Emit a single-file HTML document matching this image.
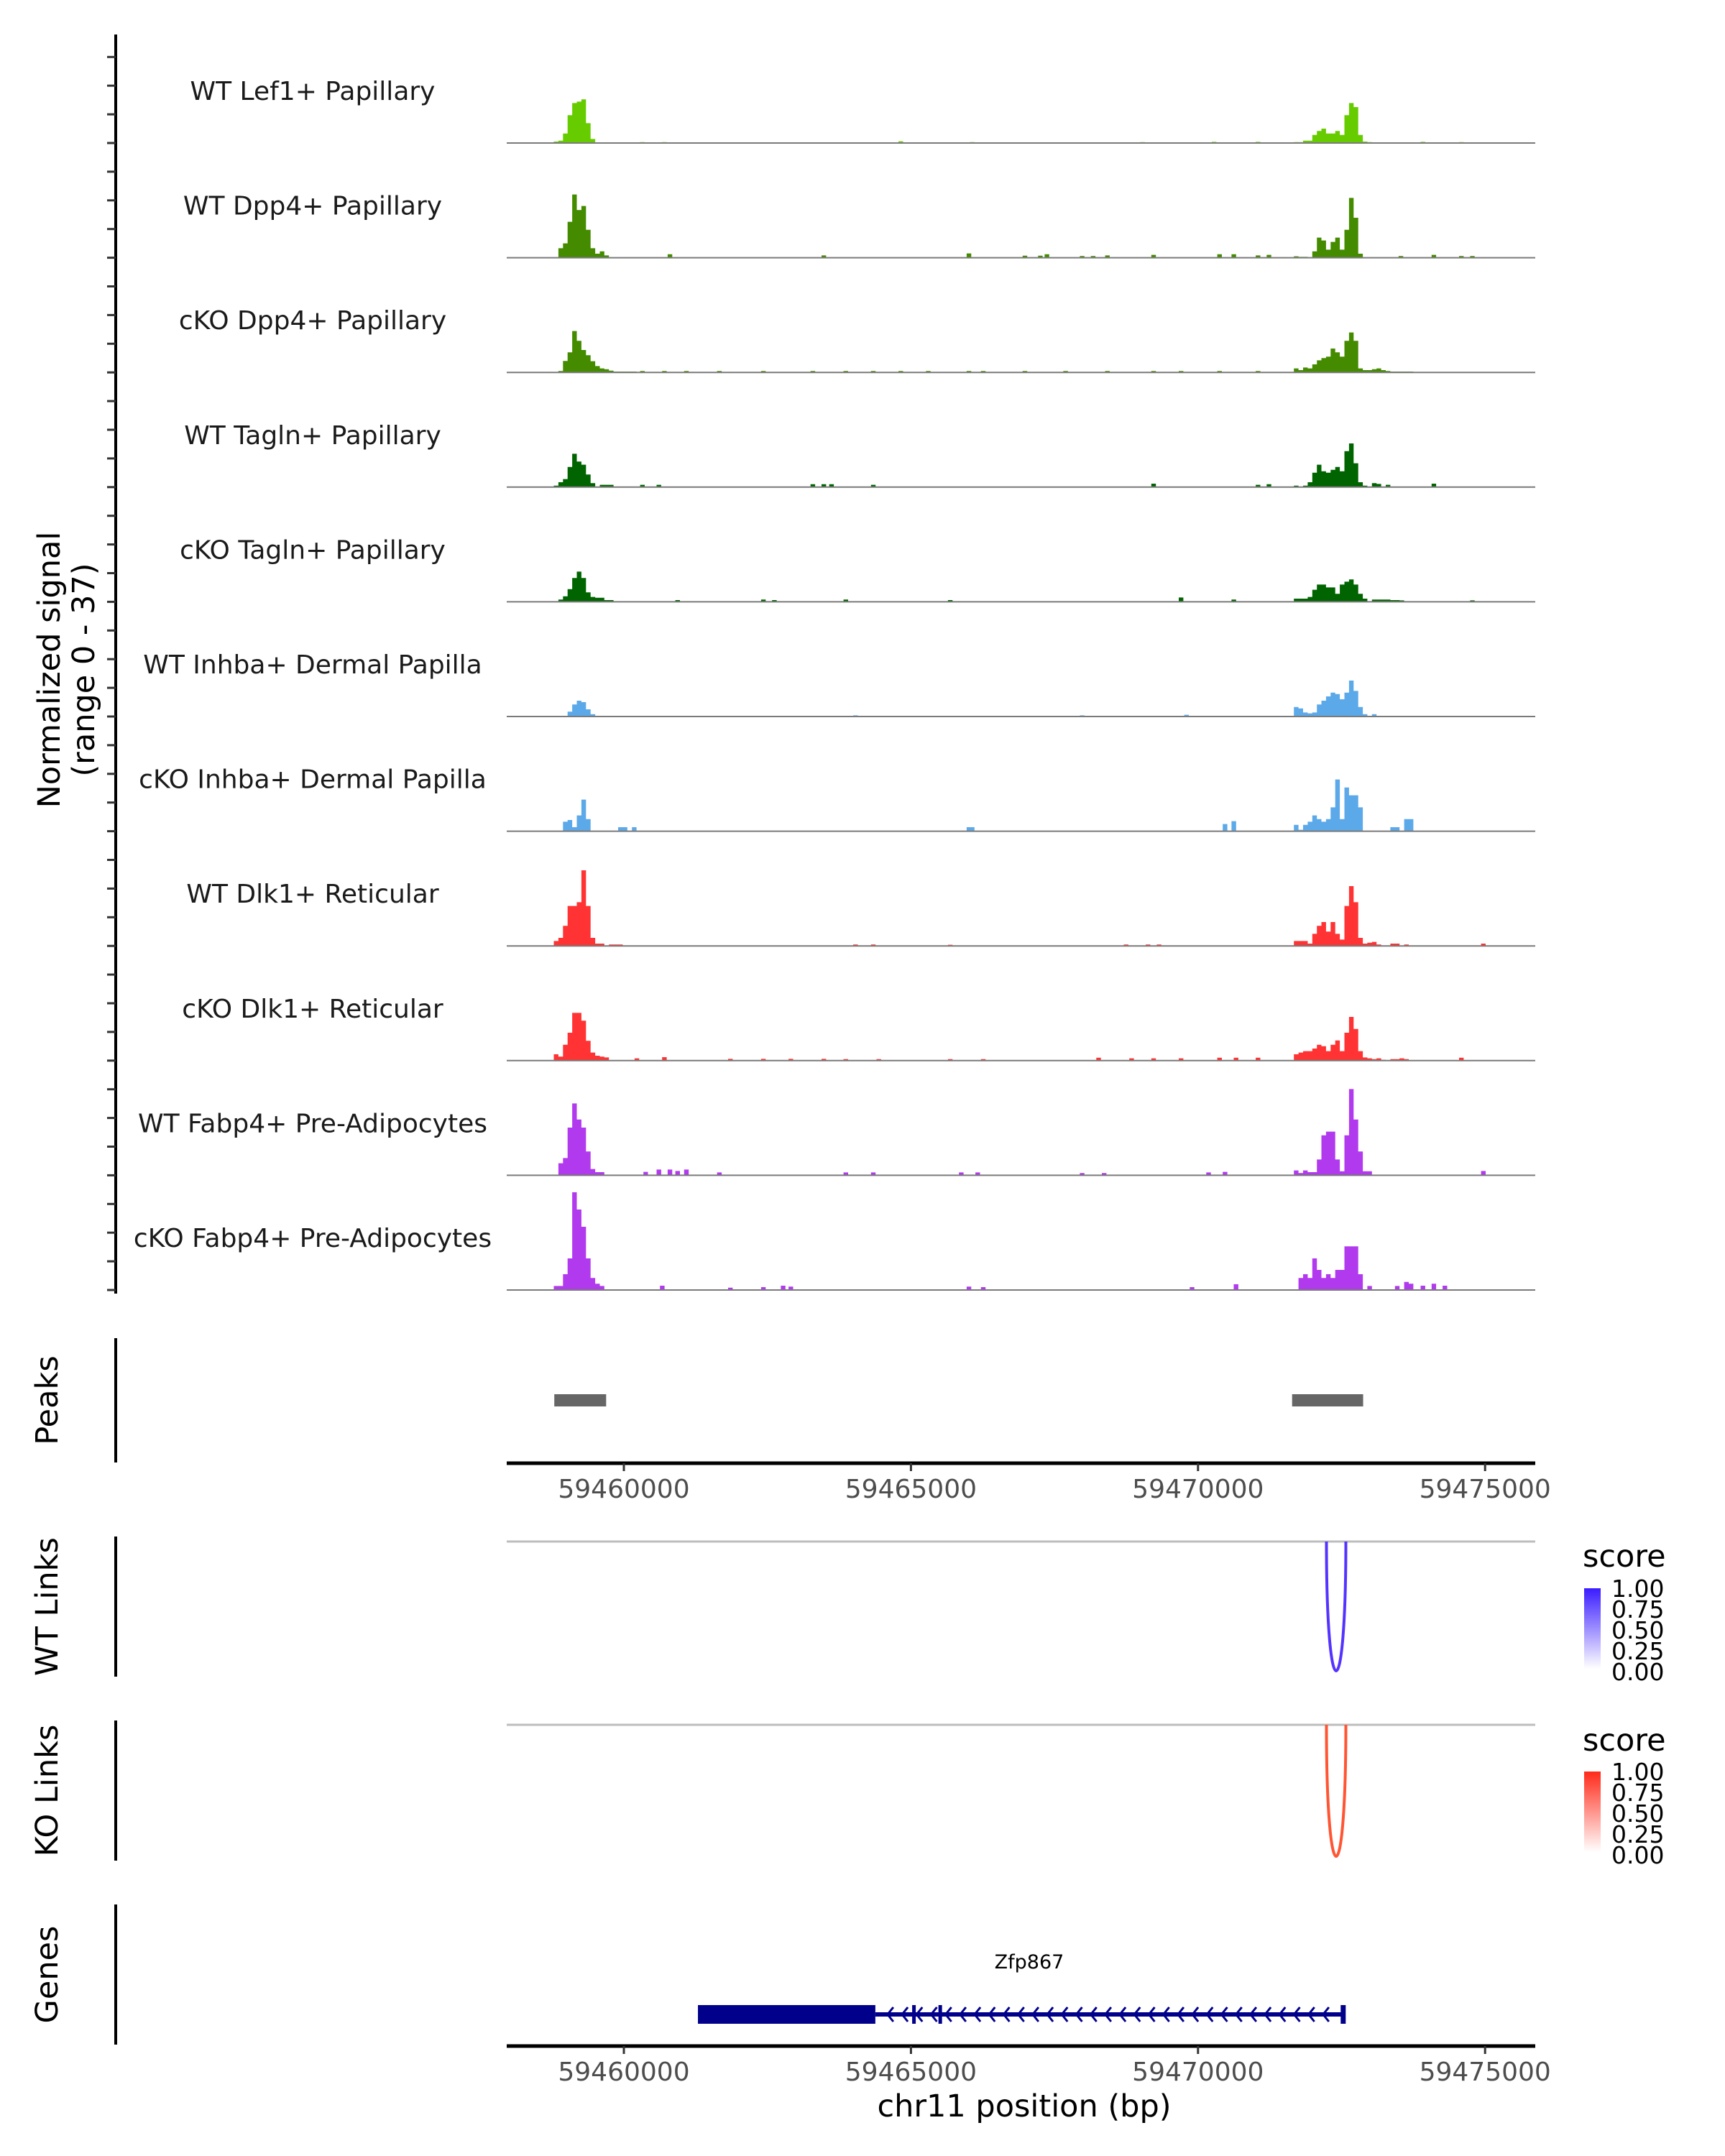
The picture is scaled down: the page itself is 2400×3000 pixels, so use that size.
<!DOCTYPE html>
<html><head><meta charset="utf-8"><style>
html,body{margin:0;padding:0;background:#fff;}
svg{display:block;font-family:"DejaVu Sans","Liberation Sans",sans-serif;}
</style></head><body>
<svg id="chart" width="2400" height="3000" viewBox="0 0 2400 3000" xmlns="http://www.w3.org/2000/svg">
<defs>
<linearGradient id="gradWT" x1="0" y1="1" x2="0" y2="0"><stop offset="0" stop-color="#ffffff"/><stop offset="1" stop-color="#3a1cff"/></linearGradient>
<linearGradient id="gradKO" x1="0" y1="1" x2="0" y2="0"><stop offset="0" stop-color="#ffffff"/><stop offset="1" stop-color="#ff2a1a"/></linearGradient>
</defs>
<g id="tracks"></g>
<g id="axes"></g>
</svg>
<script>
// ---- data ----
const trackNames = ["WT Lef1+ Papillary","WT Dpp4+ Papillary","cKO Dpp4+ Papillary","WT Tagln+ Papillary","cKO Tagln+ Papillary","WT Inhba+ Dermal Papilla","cKO Inhba+ Dermal Papilla","WT Dlk1+ Reticular","cKO Dlk1+ Reticular","WT Fabp4+ Pre-Adipocytes","cKO Fabp4+ Pre-Adipocytes"];
const trackColors = ["#66cc00","#448b00","#448b00","#006400","#006400","#5ca9e9","#5ca9e9","#ff3333","#ff3333","#b23aee","#b23aee"];
const binSize = 80;
const leftStart = 59458780;
const rightStart = 59471670;
const leftVals = [
 [0.5,0.8,3.3,9.7,13.9,14.4,15.2,6.9,1.4,0.2,0,0,0,0,0,0,0,0],
 [0,3.3,5,12.5,22,16.6,18,9.7,3.3,1.4,2.2,0.8,0,0,0,0,0,0],
 [0,0.5,4,7,14.4,11,7.8,6,3.9,2.2,1.4,1.1,0.6,0.3,0.3,0.3,0.3,0.3],
 [0.5,1.7,2.8,7,11.6,8.9,7.8,4.4,1.4,0,0.8,0.8,0.8,0,0,0,0,0],
 [0,0.8,1.9,4.4,8.3,10.5,8.3,3.3,1.7,1.4,1.4,0.6,0.6,0,0,0,0,0],
 [0,0,0,1.7,4.2,5.5,5,2.5,0.8,0,0,0,0,0,0,0,0,0],
 [0,0,3.3,3.9,1.4,5.5,11,4.2,0,0,0,0,0,0,1.4,1.4,0,1.4],
 [1.7,2.8,7,13.9,13.9,15.2,26.3,13.9,2.8,0.8,0.8,0,0.5,0.5,0.5,0,0,0],
 [2.2,1.4,5.5,9.7,16.6,16.6,13.9,6.9,2.8,1.7,1.4,1.1,0,0,0,0,0,0],
 [0,4.2,6,16.6,25,19.4,16.6,8.3,2.2,1.1,1.1,0,0,0,0,0,0,0],
 [1.4,1.4,5.5,11,34,28,22,11,4.2,2.2,1.4,0,0,0,0,0,0,0]
];
const rightVals = [
 [0.3,0.3,0.8,0.8,2.8,4.2,5,3.3,3.3,4.2,2.8,9.7,13.9,12.5,2.8,0.5,0.3,0.2,0.2,0.2,0.2,0.2,0.2,0.2,0.2,0.2],
 [0.5,0.3,0.3,0,2.2,7,6,2.8,5.5,7,2.8,9.7,20.8,13.9,1.4,0,0,0,0,0,0,0,0,0,0,0],
 [1.4,0.8,1.7,1.4,2.8,4.2,5,5.5,8.3,7,5.5,11,13.9,11,1.4,0.8,0.8,1.1,1.4,0.8,0.5,0.3,0.3,0.3,0.3,0.3],
 [0.5,0,0.5,1.7,5,7.8,5.5,5,6,7,5.5,12.5,15.2,8.3,1.7,0.5,0,1.4,1.1,0,0.8,0,0,0,0,0],
 [1.1,1.1,1.1,1.7,4.2,6,6,5,5,2.8,6,7,7.8,6,2.8,1.1,0,0.8,0.8,0.8,0.8,0.6,0.6,0.5,0,0],
 [3.3,2.8,1.4,1.1,1.4,4.2,5.5,7,8.3,7.8,6,8.3,12.5,8.9,3.3,0.8,0,0.8,0,0,0,0,0,0,0,0],
 [2.2,0.5,2.2,3.3,5.5,4.2,3.3,4.2,8.3,18,4.2,15.2,12.5,12.5,8.3,0,0,0,0,0,0,1.4,1.4,0,4.2,4.2],
 [1.7,1.7,1.7,0.8,4.2,7,8.3,5,8.3,4.2,2.2,13.9,20.8,15.2,2.8,0.8,1.1,1.4,0.5,0,0,0.8,0.8,0,0.5,0],
 [2.2,2.8,3.3,3.3,4.2,5.5,5,3.3,5.5,7,3.3,9.7,15.2,11,3.3,1.1,0.8,0.5,0.8,0.3,0,0.5,0.5,0.8,0.5,0],
 [1.7,0.8,1.7,1.1,1.1,5.5,13.9,15.2,15.2,5.5,1.4,13.9,30,19.4,8.3,1.4,1.4,0,0,0,0,0,0,0,0,0],
 [0,4.2,5.5,4.2,11,7,4.2,5.5,4.2,7,7,15.2,15.2,15.2,5.5,0,1.4,0,0,0,0,0,1.4,0,2.8,2.2]
];
const blipPos = [
 [59460283,59460666,59461049,59464783,59466027,59468995,59470240,59471005,59473877,59474547],
 [59460762,59463443,59465970,59466946,59467214,59467329,59467942,59468133,59468382,59469186,59470335,59470584,59471005,59471196,59473494,59474068,59474547,59474739],
 [59460283,59460666,59461049,59461624,59462390,59463251,59463826,59464304,59464783,59465262,59465970,59466219,59466946,59467654,59468382,59469186,59469665,59470335,59471005],
 [59460283,59460570,59463251,59463443,59463577,59464304,59469186,59471005,59471196,59474068],
 [59460896,59462390,59462581,59463826,59465645,59469665,59470584,59474739],
 [59463995,59467942,59469760],
 [59465970,59466027,59470431,59470584],
 [59463995,59464304,59465645,59468707,59469090,59469282,59474930],
 [59460187,59460666,59461815,59462390,59462868,59463443,59463826,59464400,59465645,59466219,59468229,59468803,59469186,59469665,59470335,59470622,59471005,59474547],
 [59460340,59460570,59460762,59460896,59461049,59461624,59463826,59464304,59465836,59466123,59467942,59468325,59470144,59470431,59474930],
 [59460628,59461815,59462390,59462734,59462868,59465970,59466219,59469856,59470622,59473877,59474068,59474260]
];
const blipVals = [
 [0.3,0.3,0.2,0.6,0.3,0.3,0.4,0.4,0.4,0.3],
 [1.2,0.8,1.5,0.7,0.7,1.2,0.6,0.6,0.8,1,1.2,1.2,0.8,1,0.6,1,0.6,0.6],
 [0.5,0.5,0.5,0.5,0.5,0.5,0.5,0.5,0.5,0.5,0.5,0.5,0.5,0.5,0.5,0.5,0.5,0.5,0.5],
 [0.8,0.8,1,1,1,0.8,1.2,0.8,1,1.2],
 [0.6,0.8,0.6,0.8,0.6,1.5,0.8,0.5],
 [0.4,0.4,0.6],
 [1.4,1.4,2.5,3.5],
 [0.5,0.5,0.4,0.5,0.5,0.5,0.8],
 [0.8,1.2,0.6,0.6,0.6,0.6,0.5,0.5,0.5,0.5,1,0.8,0.8,0.8,1,1,1,1],
 [1.2,2,2,1.5,2,1,1,1,1,1,0.8,0.8,1,1.2,1.5],
 [1.5,0.8,1,1.5,1.2,1.2,1,1,2,1.5,2.2,1.5]
];
const peakStarts = [59458788, 59471639];
const peakEnds = [59459691, 59472876];
const tickValues = [59460000, 59465000, 59470000, 59475000];
const tickLabels = ["59460000","59465000","59470000","59475000"];
const wtLinkEnds = [59472237, 59472575];
const koLinkEnds = [59472237, 59472575];
const legendLabels = ["1.00","0.75","0.50","0.25","0.00"];
const geneStart = 59461290, geneCdsEnd = 59464380, geneEnd = 59472560;
const geneExons = [59465046, 59465504];

// ---- scales ----
const X0 = 705, X1 = 2136;
function xs(bp){ return 868 + (bp - 59460000) * 0.07988; }
const trackBase0 = 199, trackStep = 159.6, pxPerUnit = 4.0;
function ys(v, i){ return trackBase0 + i * trackStep - v * pxPerUnit; }

const NS = "http://www.w3.org/2000/svg";
const tracksG = document.getElementById('tracks');
const axesG = document.getElementById('axes');
function mk(tag, attrs, parent){
  const e = document.createElementNS(NS, tag);
  for (const k in attrs) e.setAttribute(k, attrs[k]);
  parent.appendChild(e);
  return e;
}
function txt(s, attrs, parent){ const t = mk('text', attrs, parent); t.textContent = s; return t; }

// ---- coverage tracks ----
trackNames.forEach((name, i) => {
  const base = ys(0, i);
  const g = mk('g', {}, tracksG);
  
  
  let d = '';
  function addBins(start, vals){
    vals.forEach((v, k) => {
      if (v <= 0) return;
      const xa = xs(start + k * binSize), xb = xs(start + (k + 1) * binSize);
      d += `M${xa.toFixed(1)},${base}V${ys(v, i).toFixed(1)}H${xb.toFixed(1)}V${base}Z`;
    });
  }
  addBins(leftStart, leftVals[i]);
  addBins(rightStart, rightVals[i]);
  blipPos[i].forEach((p, k) => {
    const xa = xs(p), xb = xs(p + binSize);
    d += `M${xa.toFixed(1)},${base}V${ys(blipVals[i][k], i).toFixed(1)}H${xb.toFixed(1)}V${base}Z`;
  });
  const path = mk('path', {d: d, fill: trackColors[i]}, g);
  
  
  const bl = mk('line', {x1: X0, x2: X1, y1: base, y2: base, stroke: '#7a7a7a', 'stroke-width': 2}, g);
  
  
  const lb = txt(name, {x: 435, y: base - 60, 'text-anchor': 'middle', 'font-size': 36, fill: '#1a1a1a'}, g);
  
  
});

// ---- left axis of tracks ----
const la = mk('line', {x1: 161, x2: 161, y1: 48, y2: 1800, stroke: '#000', 'stroke-width': 4}, axesG);


for (let i = 0; i < trackNames.length; i++) {
  for (let k = 0; k < 4; k++) {
    const y = ys(0, i) - k * trackStep / 4;
    if (y < 50) continue;
    const t = mk('line', {x1: 149, x2: 161, y1: y, y2: y, stroke: '#333', 'stroke-width': 3}, axesG);
    
    
  }
}
const yt = txt('Normalized signal', {x: 0, y: 0, 'font-size': 43, 'text-anchor': 'middle', transform: 'translate(83,932) rotate(-90)', fill: '#000'}, axesG);


const yt2 = txt('(range 0 - 37)', {x: 0, y: 0, 'font-size': 43, 'text-anchor': 'middle', transform: 'translate(131,932) rotate(-90)', fill: '#000'}, axesG);



// ---- panel side axes & titles ----
const panels = [
  {name: 'Peaks', y1: 1862, y2: 2035, dn: 'peaks'},
  {name: 'WT Links', y1: 2138, y2: 2333, dn: 'wt-links'},
  {name: 'KO Links', y1: 2394, y2: 2589, dn: 'ko-links'},
  {name: 'Genes', y1: 2650, y2: 2845, dn: 'genes'}
];
panels.forEach(p => {
  const l = mk('line', {x1: 161, x2: 161, y1: p.y1, y2: p.y2, stroke: '#000', 'stroke-width': 4}, axesG);
  
  
  const c = (p.y1 + p.y2) / 2;
  const t = txt(p.name, {x: 0, y: 0, 'font-size': 43, 'text-anchor': 'middle', transform: `translate(80,${c}) rotate(-90)`, fill: '#000'}, axesG);
  
  
});

// ---- peaks ----
peakStarts.forEach((s, k) => {
  const r = mk('rect', {x: xs(s), y: 1940, width: xs(peakEnds[k]) - xs(s), height: 17, fill: '#666666'}, axesG);
  
  
});

// ---- x axes ----
function xAxis(y, dn){
  const g = mk('g', {}, axesG);
  
  
  mk('line', {x1: X0, x2: X1, y1: y, y2: y, stroke: '#000', 'stroke-width': 5}, g);
  tickValues.forEach((v, k) => {
    mk('line', {x1: xs(v), x2: xs(v), y1: y, y2: y + 11, stroke: '#333', 'stroke-width': 3}, g);
    const t = txt(tickLabels[k], {x: xs(v), y: y + 48, 'text-anchor': 'middle', 'font-size': 36, fill: '#4d4d4d'}, g);
    
    
  });
}
xAxis(2036, 'peaks-x-axis');
xAxis(2847, 'genes-x-axis');
const xt = txt('chr11 position (bp)', {x: 1425, y: 2945, 'text-anchor': 'middle', 'font-size': 43, fill: '#000'}, axesG);



// ---- links ----
function links(lineY, bottomY, ends, color, dn){
  const g = mk('g', {}, axesG);
  
  
  mk('line', {x1: X0, x2: X1, y1: lineY, y2: lineY, stroke: '#bdbdbd', 'stroke-width': 3}, g);
  const a = xs(ends[0]), b = xs(ends[1]);
  const cy = lineY + (bottomY - lineY) / 0.75;
  const arc = mk('path', {d: `M${a},${lineY} C${a},${cy} ${b},${cy} ${b},${lineY}`, fill: 'none', stroke: color, 'stroke-width': 4}, g);
  
  
}
links(2145, 2325, wtLinkEnds, '#5533ff', 'wt-links-panel');
links(2400, 2583, koLinkEnds, '#ff5533', 'ko-links-panel');

// ---- legends ----
function legend(titleY, barY, grad, dn){
  const g = mk('g', {}, axesG);
  
  
  txt('score', {x: 2202, y: titleY, 'font-size': 43, fill: '#000'}, g);
  mk('rect', {x: 2204, y: barY, width: 23, height: 112, fill: `url(#${grad})`}, g);
  legendLabels.forEach((s, k) => {
    const t = txt(s, {x: 2242, y: barY + k * 29 + 12, 'font-size': 33, fill: '#000'}, g);
    
    
  });
}
legend(2180, 2210, 'gradWT', 'wt-score-legend');
legend(2436, 2465, 'gradKO', 'ko-score-legend');

// ---- gene ----
const gg = mk('g', {}, axesG);


const geneColor = '#00008b';
mk('line', {x1: xs(geneCdsEnd), x2: xs(geneEnd), y1: 2803, y2: 2803, stroke: geneColor, 'stroke-width': 6}, gg);
mk('rect', {x: xs(geneStart), y: 2790, width: xs(geneCdsEnd) - xs(geneStart), height: 26, fill: geneColor}, gg);
geneExons.forEach(e => mk('rect', {x: xs(e) - 2, y: 2790, width: 5, height: 26, fill: geneColor}, gg));
mk('rect', {x: xs(geneEnd) - 6, y: 2790, width: 7, height: 26, fill: geneColor}, gg);
for (let x = xs(geneCdsEnd) + 20; x < xs(geneEnd) - 10; x += 20.2) {
  const c = mk('polyline', {points: `${x + 5},${2793} ${x - 3},${2803} ${x + 5},${2813}`, fill: 'none', stroke: geneColor, 'stroke-width': 3}, gg);
  
  
}
const gl = txt('Zfp867', {x: 1432, y: 2739, 'text-anchor': 'middle', 'font-size': 27, fill: '#000'}, gg);


</script>
</body></html>
